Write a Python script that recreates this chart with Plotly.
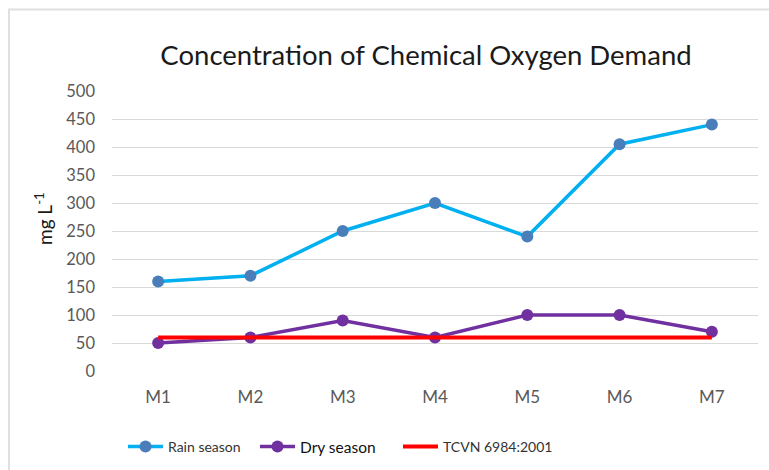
import plotly.graph_objects as go

sites = ["M1", "M2", "M3", "M4", "M5", "M6", "M7"]
rain_season = [160, 170, 250, 300, 240, 405, 440]
dry_season = [50, 60, 90, 60, 100, 100, 70]
tcvn_limit = [60, 60, 60, 60, 60, 60, 60]

W, H = 769, 470
L, R, T, B = 112, 11, 91, 99
pw, ph = W - L - R, H - T - B

def px(x):
    return (x - L) / pw

def py(y):
    return (H - B - y) / ph

fig = go.Figure()
fig.add_trace(go.Scatter(
    x=sites, y=rain_season, name="Rain season", mode="lines+markers",
    line=dict(color="#00B0F0", width=3.5),
    marker=dict(color="#4A7EBB", size=12),
    legend="legend",
))
fig.add_trace(go.Scatter(
    x=sites, y=dry_season, name="Dry season",
    mode="lines+markers",
    line=dict(color="#7030A0", width=3.5),
    marker=dict(color="#7030A0", size=12),
    legend="legend2",
))
fig.add_trace(go.Scatter(
    x=sites, y=tcvn_limit, name="TCVN 6984:2001", mode="lines",
    line=dict(color="#FF0000", width=4),
    legend="legend3",
))

def leg(xpix, size, color):
    return dict(orientation="h", x=px(xpix), xanchor="left", y=py(447), yanchor="middle",
                font=dict(size=size, color=color), itemwidth=35,
                bgcolor="rgba(0,0,0,0)")

fig.update_layout(
    width=W, height=H, autosize=False,
    margin=dict(l=L, r=R, t=T, b=B, autoexpand=False),
    paper_bgcolor="white", plot_bgcolor="white",
    font=dict(family="Lato, Open Sans, sans-serif", color="#595959"),
    title=dict(text="Concentration of Chemical Oxygen Demand",
               xref="paper", x=px(426), xanchor="center",
               yref="container", y=1 - 55 / H, yanchor="middle",
               font=dict(size=27.5, color="#1a1a1a")),
    xaxis=dict(type="category", range=[-0.5, 6.5], showgrid=False, showline=False,
               ticks="", ticklabelstandoff=14,
               tickfont=dict(size=17, color="#595959")),
    yaxis=dict(range=[0, 500], dtick=50, showgrid=True, gridcolor="#D9D9D9",
               gridwidth=1, zeroline=False, showline=False, ticks="",
               ticklabelstandoff=16,
               tickfont=dict(size=16.5, color="#595959")),
    legend=leg(123, 14, "#333333"),
    legend2=leg(255, 15.5, "#111111"),
    legend3=leg(398, 14, "#333333"),
    showlegend=True,
)

fig.add_annotation(text="mg L<sup>-1</sup>", xref="paper", yref="paper",
                   x=px(43), y=py(219), xanchor="center", yanchor="middle",
                   textangle=-90, showarrow=False,
                   font=dict(size=19, color="#1a1a1a"))

fig.add_shape(type="rect", xref="paper", yref="paper",
              x0=px(9), x1=px(800), y0=py(9.5), y1=py(500),
              line=dict(color="#E0E0E0", width=2), fillcolor="rgba(0,0,0,0)",
              layer="below")

fig.write_html("out.html", config={"displayModeBar": False},
               post_script="document.body.style.margin='0';document.body.style.overflow='hidden';")
